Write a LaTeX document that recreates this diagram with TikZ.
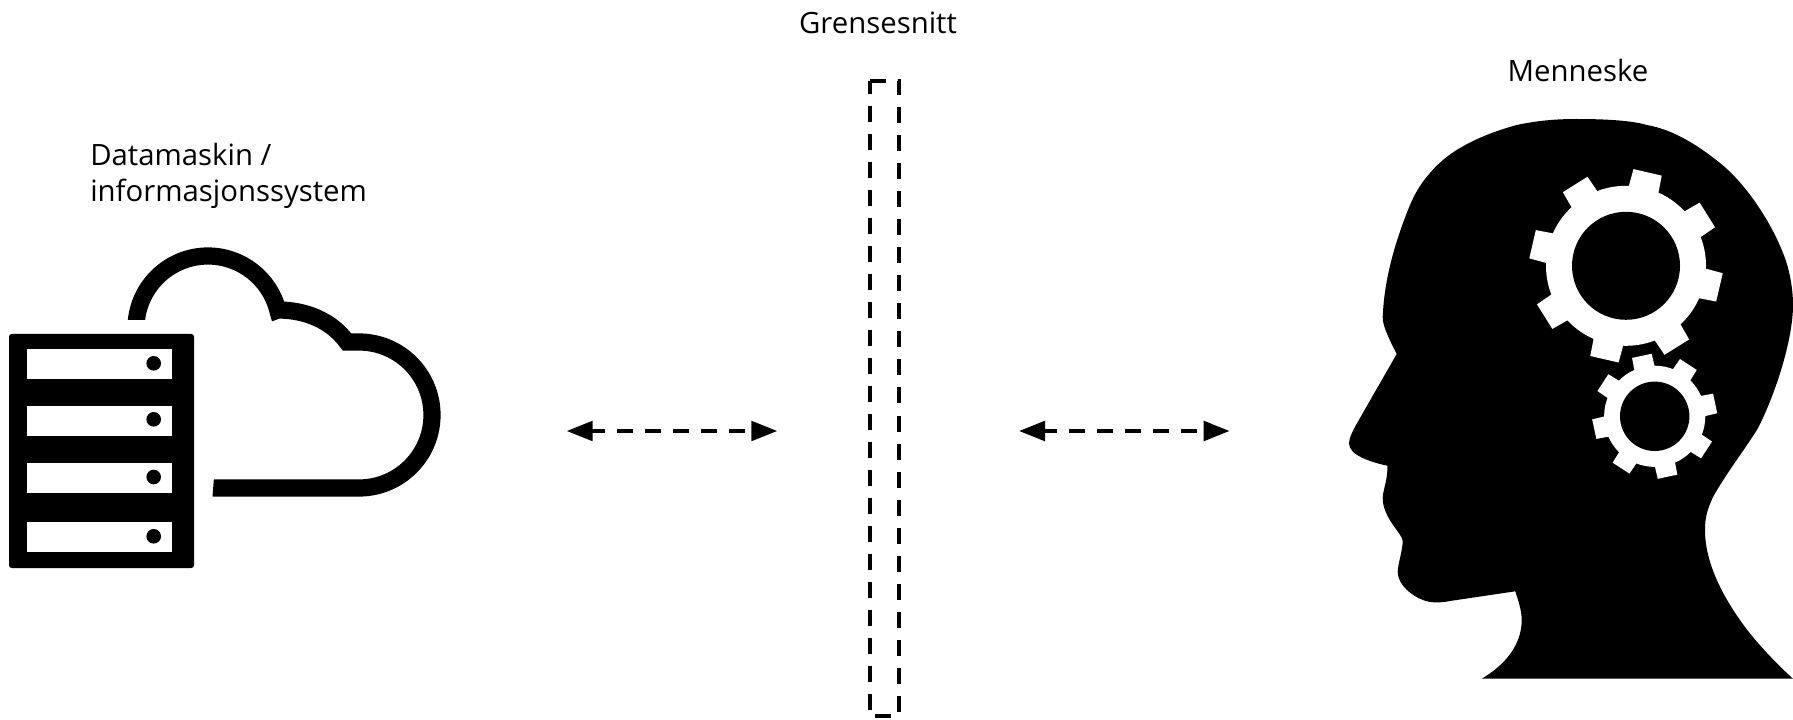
\documentclass[tikz,border=0pt]{standalone}
\usepackage{fontspec}
\setmainfont{Open Sans}
\usetikzlibrary{arrows.meta}
\tikzset{
  lbl/.style={inner sep=0pt,font=\fontsize{22pt}{27.4pt}\selectfont,text=black},
  dashline/.style={line width=3pt,dash pattern=on 12pt off 9pt},
  biarrow/.style={dashline,dash phase=2pt,{Triangle[length=19.5pt,width=14.6pt]}-{Triangle[length=19.5pt,width=14.6pt]}},
  cloudline/.style={line width=12.9pt,line cap=butt,line join=miter,miter limit=10},
  slot/.style={fill=white},
  led/.style={fill=black}
}
\newcommand{\gearshape}[8]{% cx cy firstangle rring rtip rhole halftip halfbase
  \begin{scope}[shift={(#1,#2)}]
    \fill[white] (0,0) circle[radius=#4];
    \foreach \k in {0,...,7}{
      \pgfmathsetmacro{\a}{#3+45*\k}
      \fill[white] ({\a-#8}:{#4-1}) -- ({\a-#7}:#5) -- ({\a+#7}:#5) -- ({\a+#8}:{#4-1}) -- cycle;
    }
    \fill[black] (0,0) circle[radius=#6];
  \end{scope}
}
\begin{document}
\begin{tikzpicture}[x=0.75pt,y=-0.75pt]
\useasboundingbox (0,0) rectangle (1793,720);
% labels
\node[lbl] (grens) at (878,23) {Grensesnitt};
\node[lbl] (menn) at (1578,71) {Menneske};
\node[lbl,anchor=west,align=left] (data) at (90,176) {Datamaskin /\\informasjonssystem};
% interface bar
\draw[dashline] (869.5,80.6) -- (898.6,80.6) -- (898.6,716) -- (869.5,716) -- cycle;
% arrows
\coordinate (a1l) at (566.7,431);
\coordinate (a1r) at (777.3,431);
\coordinate (a2l) at (1019,431);
\coordinate (a2r) at (1229.6,431);
\draw[biarrow] (a1l) -- (a1r);
\draw[biarrow] (a2l) -- (a2r);
% cloud
\begin{scope}
\clip (100,320) -- (240,320) -- (240,470) -- (214.5,470) -- (212.3,500) -- (450,500) -- (450,230) -- (100,230) -- cycle;
\draw[cloudline] (136,328) arc[start angle=180,end angle=345.6,radius=72]
  -- (278,310) .. controls (305,310) and (331,320) .. (347,342)
  -- (359,342) arc[start angle=270,end angle=450,radius=73] -- (205,488);
\end{scope}
% server
\fill[black,rounded corners=2pt] (9,334) rectangle (194,568);
\foreach \ya/\yb/\yc in {349/379/363.3,406/436/419.3,462.7/492.7/477,522/552/536.3}{
  \fill[slot] (26.7,\ya) rectangle (172.3,\yb);
  \fill[led] (153.7,\yc) circle[radius=7.3];
}
% head
\fill[black] (1396.7,354)
  .. controls (1387,335) and (1382.7,325) .. (1382.7,317)
  .. controls (1384,285) and (1392,250) .. (1408,210)
  .. controls (1415,192) and (1422,182) .. (1430,173)
  .. controls (1445,155) and (1470,138) .. (1516.7,125)
  .. controls (1540,120) and (1560,119) .. (1576.7,119)
  .. controls (1600,119) and (1630,120) .. (1647,125)
  .. controls (1675,130) and (1700,147) .. (1720,163)
  .. controls (1745,183) and (1770,220) .. (1783,253)
  .. controls (1790,270) and (1793,290) .. (1793,305)
  .. controls (1793,340) and (1775,395) .. (1758,428)
  .. controls (1750,442) and (1725,475) .. (1713,497)
  .. controls (1707,510) and (1705,518) .. (1705,530)
  .. controls (1705,565) and (1725,600) .. (1745,627)
  .. controls (1760,647) and (1780,667) .. (1793,678.7)
  -- (1481.7,678.7)
  .. controls (1505,665) and (1521.7,645) .. (1521.7,620)
  .. controls (1521.7,610) and (1518,600) .. (1515.3,591.3)
  -- (1450,601)
  .. controls (1440,603) and (1430,603) .. (1423,600)
  .. controls (1412,596) and (1397.7,585) .. (1397.7,571.7)
  .. controls (1397.7,565) and (1402.7,550) .. (1402.7,541)
  .. controls (1402.7,534) and (1382.7,518) .. (1382.7,498.3)
  .. controls (1382.7,490) and (1388,480) .. (1387.3,465.7)
  .. controls (1370,462) and (1349,455) .. (1349,443.3)
  .. controls (1349,438) and (1353,430) .. (1360,418)
  -- cycle;
% gears
\gearshape{1626}{265.8}{13}{80}{97}{54}{8.6}{11.1}
\gearshape{1654.7}{416.3}{33}{50.6}{62.6}{34.7}{9.2}{12}
\end{tikzpicture}
\end{document}
